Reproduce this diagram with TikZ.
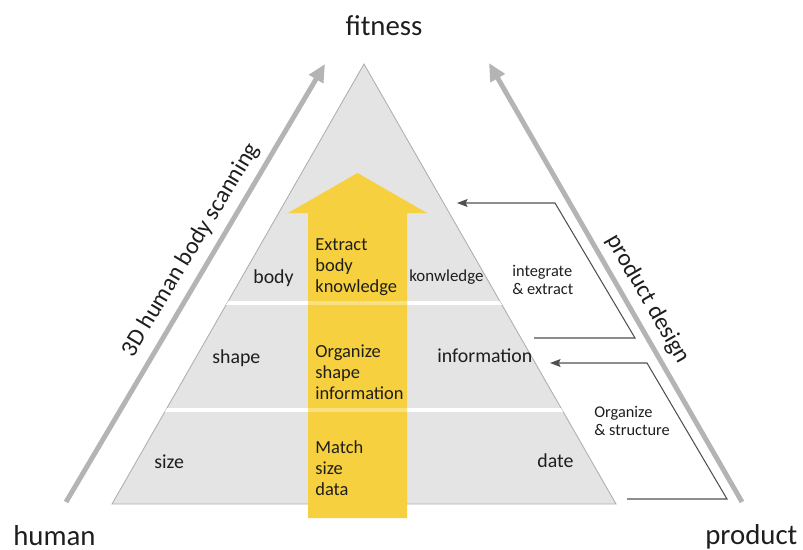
\documentclass[tikz,border=0pt]{standalone}
\usepackage{fontspec}
\setmainfont{Carlito}
\usetikzlibrary{arrows.meta}
\definecolor{pyrgray}{RGB}{228,228,228}
\definecolor{edgegray}{RGB}{175,175,175}
\definecolor{flowgray}{RGB}{180,180,180}
\definecolor{goldarrow}{RGB}{246,208,62}
\definecolor{linkgray}{RGB}{80,80,80}
\definecolor{inkblack}{RGB}{30,30,30}
\begin{document}
\begin{tikzpicture}[
      x=0.02cm, y=-0.02cm,
      every node/.style={text=inkblack, inner sep=0pt},
      bigtitle/.style={font=\fontsize{16.4}{19}\selectfont},
      sidetitle/.style={font=\fontsize{13.6}{16}\selectfont},
      level/.style={font=\fontsize{11.3}{13}\selectfont, anchor=base west},
      smalllevel/.style={font=\fontsize{9.6}{11}\selectfont, anchor=base west},
      goal/.style={font=\fontsize{10.5}{11.9}\selectfont, align=left, anchor=west},
      note/.style={font=\fontsize{9.3}{10.2}\selectfont, align=left, anchor=west},
      flow/.style={line width=2.8pt, draw=flowgray, -{Triangle[length=10pt,width=9pt]}},
      link/.style={line width=0.6pt, draw=linkgray, -{Stealth[length=6pt,width=4.5pt,inset=1pt]}},
      divider/.style={line width=2.2pt, draw=white}
    ]
    % Fix the margins.
    \useasboundingbox (0,0) rectangle (803,549);
    % Draw the pyramid and its layers.
    \coordinate (apex) at (364,64);
    \coordinate (baseL) at (112,504);
    \coordinate (baseR) at (616,504);
    \filldraw[fill=pyrgray, draw=edgegray, line width=0.5pt] (apex) -- (baseL) -- (baseR) -- cycle;
    \begin{scope}
      \clip (apex) -- (baseL) -- (baseR) -- cycle;
      \draw[divider] (100,303) -- (640,303);
      \draw[divider] (100,410) -- (640,410);
    \end{scope}
    % Draw the yellow arrow.
    \fill[goldarrow] (308,518) -- (308,213) -- (288,213) -- (357.5,173) -- (427,213)
      -- (407,213) -- (407,518) -- cycle;
    \draw[divider, opacity=0.35] (308,303) -- (407,303);
    \draw[divider, opacity=0.35] (308,410) -- (407,410);
    % Draw the side arrows.
    \coordinate (humanfoot) at (66,502);
    \coordinate (fitnessL) at (325,64);
    \coordinate (productfoot) at (742,502);
    \coordinate (fitnessR) at (489,63);
    \draw[flow] (humanfoot) -- (fitnessL);
    \draw[flow] (productfoot) -- (fitnessR);
    % Draw the titles.
    \node[bigtitle, anchor=base] (fitness) at (384,35) {fitness};
    \node[bigtitle, anchor=base west] (human) at (13,545) {human};
    \node[bigtitle, anchor=base west] (product) at (705,544) {product};
    \node[sidetitle, rotate=59] (scanning) at (191,250) {3D human body scanning};
    \node[sidetitle, rotate=-60] (design) at (648,299) {product design};
    % Draw the layer labels.
    \node[level] (body) at (253,283) {body};
    \node[level] (shape) at (212,363) {shape};
    \node[level] (size) at (154,468) {size};
    \node[smalllevel] (knowledge) at (409,281) {konwledge};
    \node[level] (information) at (437,362) {information};
    \node[level] (date) at (537,467) {date};
    \node[goal] (extract) at (315,267) {Extract\\body\\knowledge};
    \node[goal] (organize) at (315,372) {Organize\\shape\\information};
    \node[goal] (match) at (315,468) {Match\\size\\data};
    % Draw the feedback links.
    \node[note] (integrate) at (512,280) {integrate\\\& extract};
    \node[note] (structure) at (594,421) {Organize\\\& structure};
    \coordinate (ie-from) at (534,338);
    \coordinate (ie-turn) at (635,338);
    \coordinate (ie-bend) at (555,203);
    \coordinate (ie-to) at (457,203);
    \draw[link] (ie-from) -- (ie-turn) -- (ie-bend) -- (ie-to);
    \coordinate (os-from) at (627,499);
    \coordinate (os-turn) at (727,499);
    \coordinate (os-bend) at (647,363);
    \coordinate (os-to) at (550,363);
    \draw[link] (os-from) -- (os-turn) -- (os-bend) -- (os-to);
    \end{tikzpicture}
\end{document}
